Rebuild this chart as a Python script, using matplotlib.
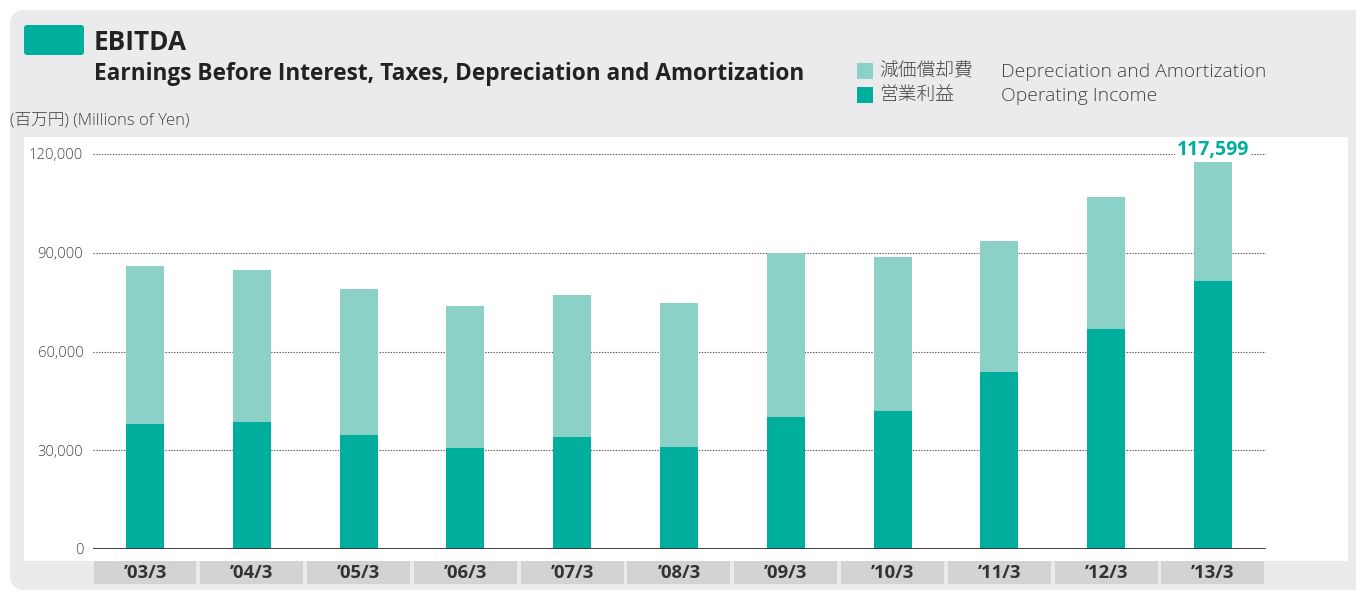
import matplotlib
matplotlib.use("Agg")
import matplotlib.pyplot as plt
from matplotlib.patches import FancyBboxPatch, Rectangle
import matplotlib.transforms as mtransforms
import numpy as np

categories = ["’03/3", "’04/3", "’05/3", "’06/3", "’07/3", "’08/3",
              "’09/3", "’10/3", "’11/3", "’12/3", "’13/3"]
operating_income = [38000, 38600, 34600, 30700, 34000, 31000,
                    40100, 41900, 53800, 66800, 81400]
ebitda_total = [86000, 84800, 79000, 73800, 77200, 74700,
                89900, 88700, 93600, 106900, 117599]
depreciation = [t - o for t, o in zip(ebitda_total, operating_income)]
yticks = [0, 30000, 60000, 90000, 120000]
ytick_labels = ["0", "30,000", "60,000", "90,000", "120,000"]
highlight_label = "117,599"

DARK = "#00ae9d"
LIGHT = "#8bd1c7"
PANEL = "#ebebed"
BOX = "#d3d3d5"
TXT = "#333333"
FONT = ["Open Sans", "Noto Sans CJK JP", "DejaVu Sans"]
plt.rcParams["font.family"] = FONT

fig = plt.figure(figsize=(13.56, 5.94), dpi=100)
fig.patch.set_facecolor("white")
ti = fig.dpi_scale_trans

# outer panel
fig.patches.append(FancyBboxPatch((0.10, 0.04), 13.8, 5.80,
                                  boxstyle="round,pad=0,rounding_size=0.15",
                                  transform=ti, facecolor=PANEL, edgecolor="none", zorder=0))
# white area
fig.patches.append(Rectangle((0.24, 0.33), 13.24, 4.24, transform=ti,
                             facecolor="white", edgecolor="none", zorder=1))
# title square
fig.patches.append(FancyBboxPatch((0.24, 5.39), 0.60, 0.30,
                                  boxstyle="round,pad=0,rounding_size=0.03",
                                  transform=ti, facecolor=DARK, edgecolor="none", zorder=2))

fig.text(94 / 1356, 1 - 43 / 594, "EBITDA", fontsize=18.8, fontweight="bold",
         color="#222222", va="center", ha="left")
fig.text(94 / 1356, 1 - 74 / 594,
         "Earnings Before Interest, Taxes, Depreciation and Amortization",
         fontsize=16.25, fontweight="bold", color="#222222", va="center", ha="left")
fig.text(10 / 1356, 1 - 121 / 594, "(百万円) (Millions of Yen)", fontsize=12,
         color="#444444", va="center", ha="left", fontweight="light")

# legend
for (yc, col, jp, en) in [(71, LIGHT, "減価償却費", "Depreciation and Amortization"),
                          (95, DARK, "営業利益", "Operating Income")]:
    fig.patches.append(Rectangle((857 / 100, (594 - yc - 8) / 100), 0.16, 0.16,
                                 transform=ti, facecolor=col, edgecolor="none", zorder=2))
    fig.text(879 / 1356, 1 - yc / 594, jp, fontsize=13.5, color="#444444",
             va="center", ha="left", family=["Noto Sans CJK JP"], fontweight="light")
    fig.text(1001 / 1356, 1 - (yc + 1) / 594, en, fontsize=13.9, color="#444444",
             va="center", ha="left", fontweight="light")

ax = fig.add_axes([93 / 1356, (594 - 549) / 594, 1173 / 1356, 395 / 594])
ax.set_facecolor("none")
ax.set_zorder(3)
x = np.arange(len(categories))
w = 0.356
ax.bar(x, operating_income, width=w, color=DARK, zorder=6)
ax.bar(x, depreciation, width=w, bottom=operating_income, color=LIGHT, zorder=6)

ax.set_xlim(-0.487, 10.497)
ax.set_ylim(0, 120000)
for s in ax.spines.values():
    s.set_visible(False)
ax.axhline(0, color="#333333", lw=1.3, zorder=7)
for yv in yticks[1:]:
    ax.axhline(yv, color="#555555", lw=0.8, ls=(0, (1.2, 1.3)), zorder=2)
ax.set_yticks(yticks)
ax.set_yticklabels(ytick_labels, fontsize=10.7, color="#444444", fontweight="light")
ax.tick_params(axis="y", length=0, pad=7)
ax.set_xticks([])

trans = mtransforms.blended_transform_factory(ax.transData, ax.transAxes)
for i, c in enumerate(categories):
    ax.add_patch(Rectangle((i - 0.482, -0.0886), 0.964, 0.0582, transform=trans,
                           facecolor=BOX, edgecolor="none", clip_on=False, zorder=3))
    ax.text(i, -0.0595, c, transform=trans, ha="center", va="center",
            fontsize=13.3, fontweight="bold", color=TXT, clip_on=False, zorder=4)

ax.annotate(highlight_label, xy=(x[-1], 120000), xytext=(0, 3), textcoords="offset points",
            ha="center", va="center", fontsize=14, fontweight="bold", color=DARK, zorder=5,
            bbox=dict(facecolor="white", edgecolor="none", pad=1))

fig.savefig("out.png", dpi=100)
